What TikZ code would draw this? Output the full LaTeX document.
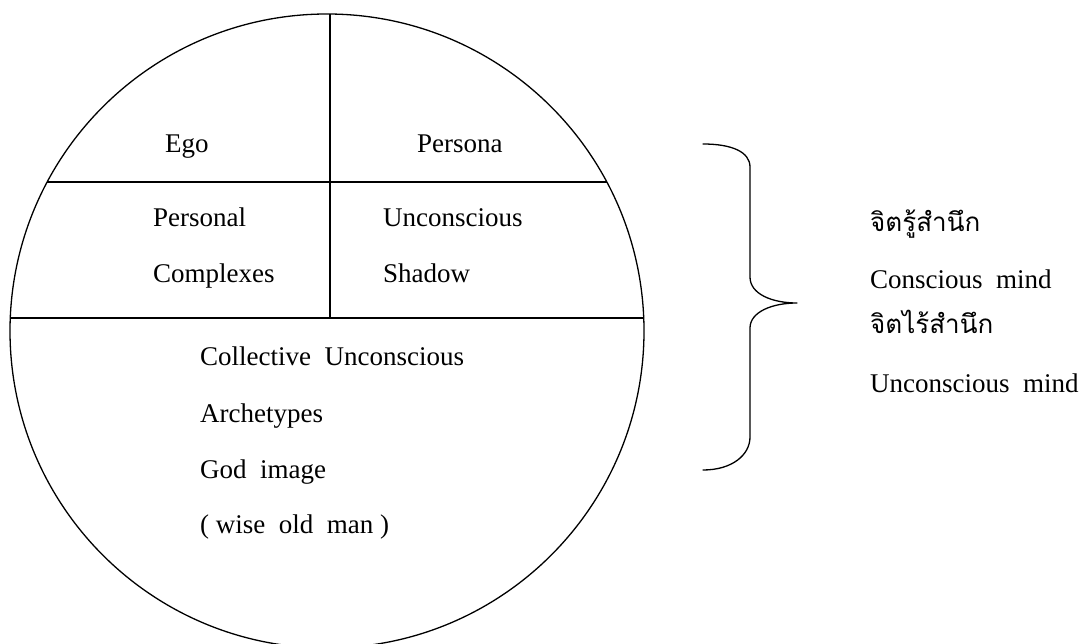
\documentclass[tikz,border=0pt]{standalone}
\usepackage{fontspec}
\setmainfont{Liberation Serif}
\newfontfamily\thaifont[Script=Thai]{Loma}
\usetikzlibrary{positioning}

\tikzset{
  lbl/.style={anchor=base west, inner sep=0pt, font=\fontsize{27}{32}\selectfont},
  thlbl/.style={anchor=base west, inner sep=0pt, font=\thaifont\fontsize{26}{30}\selectfont},
  rim/.style={line width=1.3pt}
}

\begin{document}
\begin{tikzpicture}[x=1pt, y=-1pt, line cap=round, line join=round]
  \useasboundingbox (0,0) rectangle (1085,644);

  %--------------------------
  % The psyche: circle cut in parts
  %--------------------------
  \coordinate (c) at (327,331);
  \begin{scope}
    \clip (c) circle (317pt);
    \draw[rim] (330,0) -- (330,318);
    \draw[rim] (0,182) -- (700,182);
    \draw[rim] (0,318) -- (700,318);
  \end{scope}
  \draw[rim] (c) circle (317pt);

  % Labels inside
  \node[lbl] (ego) at (165,153) {Ego};
  \node[lbl] (persona) at (417,153) {Persona};
  \node[lbl] (personal) at (153,227) {Personal};
  \node[lbl] (complexes) at (153,283) {Complexes};
  \node[lbl] (unc) at (383,227) {Unconscious};
  \node[lbl] (shadow) at (383,283) {Shadow};
  \node[lbl] (collective) at (200,366) {Collective\ \ Unconscious};
  \node[lbl] (arche) at (200,423) {Archetypes};
  \node[lbl] (god) at (200,478) {God\ \ image};
  \node[lbl] (wise) at (200,533) {( wise\ \ old\ \ man )};

  %--------------------------
  % Brace and the two minds
  %--------------------------
  \draw[rim] (703,144) .. controls (732,144) and (750,152) .. (750,167)
    -- (750,277) .. controls (750,294) and (772,303) .. (797,303)
    .. controls (772,303) and (750,312) .. (750,328)
    -- (750,437) .. controls (750,455) and (732,470) .. (703,470);

  \node[thlbl] (th1) at (870,232) {จิตรู้สำนึก};
  \node[lbl] (cmind) at (870,289) {Conscious\ \ mind};
  \node[thlbl] (th2) at (870,334) {จิตไร้สำนึก};
  \node[lbl] (umind) at (870,393) {Unconscious\ \ mind};

\end{tikzpicture}
\end{document}
